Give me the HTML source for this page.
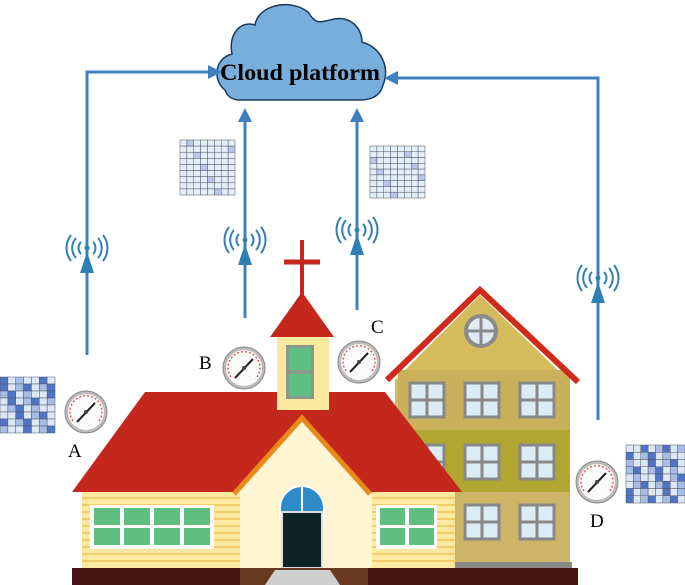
<!DOCTYPE html>
<html><head><meta charset="utf-8"><style>
html,body{margin:0;padding:0;background:#fff;width:685px;height:585px;overflow:hidden}
svg{display:block}
text{font-family:"Liberation Serif",serif}
</style></head><body>
<svg id="s" width="685" height="585" viewBox="0 0 685 585" xmlns="http://www.w3.org/2000/svg">
<defs>
<marker id="ar" markerWidth="14" markerHeight="14" refX="10" refY="7" orient="auto" markerUnits="userSpaceOnUse"><path d="M0,0 L14,7 L0,14z" fill="#3f7fbf"/></marker>
<g id="wifi" fill="none" stroke="#2f7fb5" stroke-width="2">
<circle cx="0" cy="0" r="2.5" fill="#2f7fb5" stroke="none"/>
<path d="M-6,-6 A8.5,8.5 0 0 0 -6,6 M6,-6 A8.5,8.5 0 0 1 6,6"/>
<path d="M-11,-10 A15,15 0 0 0 -11,10 M11,-10 A15,15 0 0 1 11,10"/>
<path d="M-16,-13 A21,21 0 0 0 -16,13 M16,-13 A21,21 0 0 1 16,13"/>
<path d="M0,4 L-7,25 L7,25z" fill="#2f7fb5" stroke="none"/>
</g>
<g id="gauge">
<circle r="21" fill="#bbb" stroke="#888" stroke-width="1"/>
<circle r="18" fill="#fafafa"/>
<path d="M-13,9 A16,16 0 1 1 13,9" fill="none" stroke="#e06060" stroke-width="1.5" stroke-dasharray="2 2"/>
<line x1="-9" y1="10" x2="9" y2="-9" stroke="#222" stroke-width="2"/>
<circle r="2" fill="#444"/>
</g>
</defs>
<path d="M225,90 C212,80 215,58 232,54 C228,35 240,20 255,25 C258,5 290,-2 308,12 C316,25 320,22 330,20 C350,14 362,28 362,42 C382,48 390,68 383,85 C380,97 370,100 360,100 L240,100 C232,100 227,96 225,90z" fill="#78aedb" stroke="#1a3a5a" stroke-width="1.5"/>
<text x="300" y="80" text-anchor="middle" font-size="23" font-weight="bold" fill="#000" textLength="160" lengthAdjust="spacingAndGlyphs">Cloud platform</text>
<g stroke="#3f7fbf" stroke-width="3" fill="none">
<polyline points="87,355 87,72 218,72" marker-end="url(#ar)"/>
<polyline points="598,420 598,78 388,78" marker-end="url(#ar)"/>
<line x1="245" y1="318" x2="245" y2="112" marker-end="url(#ar)"/>
<line x1="357" y1="310" x2="357" y2="112" marker-end="url(#ar)"/>
</g>
<use href="#wifi" x="87" y="248"/>
<use href="#wifi" x="245" y="240"/>
<use href="#wifi" x="357" y="230"/>
<use href="#wifi" x="598" y="278"/>
<g id="grids"></g>
<polygon points="395,380 480,295 568,380 568,565 395,565" fill="#d4bc5c"/>
<rect x="398" y="370" width="172" height="60" fill="#c9b05a"/>
<rect x="398" y="430" width="172" height="62" fill="#b1a632"/>
<rect x="398" y="492" width="172" height="72" fill="#cdb466"/>
<polyline points="387,380 480,290 578,382" fill="none" stroke="#d02a1c" stroke-width="6"/>
<circle cx="481" cy="331" r="15" fill="#dfeaf2" stroke="#8a8a8a" stroke-width="4"/>
<path d="M481,316V346M466,331H496" stroke="#8a8a8a" stroke-width="3"/>
<g id="rwin"></g>
<rect x="450" y="562" width="122" height="8" fill="#888"/>
<polygon points="72,492 145,392 385,392 462,492" fill="#c4271c"/>
<rect x="82" y="492" width="373" height="78" fill="#fbe9a0"/>
<g stroke="#f2cc6a" stroke-width="2" id="sid"></g>
<line x1="302" y1="240" x2="302" y2="296" stroke="#c4271c" stroke-width="4"/>
<line x1="284" y1="262" x2="320" y2="262" stroke="#c4271c" stroke-width="5"/>
<rect x="277" y="332" width="52" height="78" fill="#fbe9a0"/>
<polygon points="270,337 302,292 334,337" fill="#c4271c"/>
<rect x="286" y="345" width="28" height="54" fill="#8a9a8a"/>
<rect x="289" y="348" width="22" height="22" fill="#5fbf80"/>
<rect x="289" y="374" width="22" height="22" fill="#5fbf80"/>
<polygon points="232,494 302,415 372,494 372,570 240,570 240,494" fill="#fff5d2"/>
<polyline points="234,494 302,418 370,494" fill="none" stroke="#e88a1a" stroke-width="5"/>
<path d="M280,520 V508 A22,22 0 0 1 324,508 V520z" fill="#2e8ac8" stroke="#fff" stroke-width="2"/>
<line x1="302" y1="487" x2="302" y2="512" stroke="#fff" stroke-width="2"/>
<rect x="282" y="512" width="40" height="56" fill="#0e2424" stroke="#ddd" stroke-width="2"/>
<g id="lwin"></g>
<rect x="72" y="568" width="506" height="17" fill="#4a1414"/>
<rect x="240" y="568" width="128" height="17" fill="#6a3a20"/>
<polygon points="275,570 330,570 340,585 265,585" fill="#cfcfcf"/>
<use href="#gauge" x="86" y="412"/>
<use href="#gauge" x="244" y="368"/>
<use href="#gauge" x="359" y="362"/>
<use href="#gauge" x="597" y="482"/>
<g font-size="19" fill="#000">
<text x="68" y="457">A</text>
<text x="199" y="369">B</text>
<text x="371" y="333">C</text>
<text x="590" y="527">D</text>
</g>
</svg>
<script>
var NS="http://www.w3.org/2000/svg";
function el(p,t,a){var e=document.createElementNS(NS,t);for(var k in a)e.setAttribute(k,a[k]);p.appendChild(e);return e;}
var g=document.getElementById("grids");
function grid(x,y,w,h,n,m,dark){
 var cw=w/n,ch=h/m;
 for(var i=0;i<n;i++)for(var j=0;j<m;j++){
  var r=(i*7+j*13+x)%11, c;
  if(dark){c=r<3?"#4f74c4":(r<6?"#a8bde6":"#dce8f6");}else{c=r<1?"#b8c6ea":"#e2eef8";}
  el(g,"rect",{x:x+i*cw,y:y+j*ch,width:cw,height:ch,fill:c,stroke:"#556","stroke-width":0.5});
 }
}
grid(180,140,55,55,8,9,false);
grid(370,146,55,52,8,9,false);
grid(0,377,55,56,7,8,true);
grid(626,445,59,58,8,8,true);
var rw=document.getElementById("rwin");
[[410,383],[465,383],[520,383],[465,445],[520,445],[465,505],[520,505],[410,445]].forEach(function(p){
 el(rw,"rect",{x:p[0],y:p[1],width:34,height:34,fill:"#dcecf6",stroke:"#888","stroke-width":3});
 el(rw,"path",{d:"M"+(p[0]+17)+","+p[1]+"v34M"+p[0]+","+(p[1]+17)+"h34",stroke:"#888","stroke-width":3});
});
var sd=document.getElementById("sid");
for(var y=498;y<568;y+=7){el(sd,"line",{x1:82,y1:y,x2:240,y2:y});el(sd,"line",{x1:370,y1:y,x2:455,y2:y});}
var lw=document.getElementById("lwin");
el(lw,"rect",{x:90,y:505,width:124,height:44,fill:"#fff"});
for(var i=0;i<4;i++)for(var j=0;j<2;j++)el(lw,"rect",{x:94+i*30,y:508+j*20,width:26,height:17,fill:"#5fbf80"});
el(lw,"rect",{x:376,y:505,width:61,height:44,fill:"#fff"});
for(var i=0;i<2;i++)for(var j=0;j<2;j++)el(lw,"rect",{x:380+i*29,y:508+j*20,width:25,height:17,fill:"#5fbf80"});
</script>
</body></html>
